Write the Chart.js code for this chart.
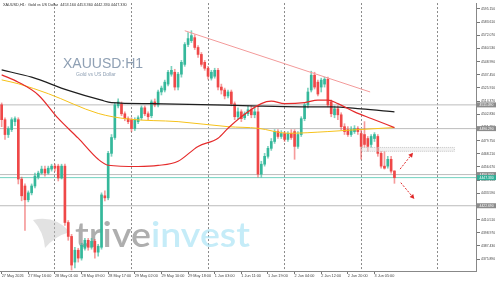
<!DOCTYPE html>
<html>
<head>
<meta charset="utf-8">
<script src="https://cdn.jsdelivr.net/npm/chart.js@4.4.1/dist/chart.umd.min.js"></script>
<style>
  html, body { margin: 0; padding: 0; background: #fff; }
  #wrap { width: 500px; height: 281px; position: relative; }
</style>
</head>
<body>
<div id="wrap"><canvas id="myChart"></canvas></div>
<script>
// XAUUSD H1 candles, 27 May 08:00 .. 3 Jun 11:00
const opens = [
  4511.1, 4498.1, 4485.1, 4489.4, 4496.4, 4498.1, 4446.1, 4440.0, 4427.9, 4434.0,
  4440.0, 4447.8, 4451.3, 4454.8, 4451.3, 4454.8, 4457.4, 4457.4, 4447.0, 4457.4,
  4408.0, 4395.8, 4373.3, 4383.7, 4376.8, 4385.4, 4392.4, 4386.3, 4391.5, 4382.0,
  4386.3, 4431.4, 4429.6, 4468.6, 4482.5, 4510.2, 4512.0, 4503.3, 4499.0, 4498.1,
  4490.3, 4496.4, 4499.8, 4508.5, 4503.3, 4501.6, 4513.7, 4511.1, 4522.4, 4524.1,
  4529.3, 4538.0, 4539.7, 4526.7, 4538.0, 4546.6, 4564.0, 4567.4, 4570.0, 4561.4,
  4555.3, 4548.4, 4543.2, 4534.5, 4536.2, 4541.4, 4526.7, 4524.1, 4518.9, 4522.4,
  4512.0, 4500.7, 4505.0, 4499.8, 4503.3, 4506.8, 4502.4, 4505.0, 4450.4, 4459.1,
  4466.0, 4473.0, 4479.0, 4487.7, 4483.4, 4486.0, 4480.8, 4486.0, 4487.7, 4474.7,
  4485.1, 4499.0, 4511.1, 4524.1, 4537.1, 4531.0, 4526.7, 4529.3, 4533.6, 4513.7,
  4502.4, 4507.6, 4502.4, 4492.0, 4489.4, 4485.1, 4487.7, 4490.3, 4486.0, 4485.1,
  4481.6, 4476.4, 4481.6, 4483.4, 4468.6, 4457.4, 4457.4, 4463.4, 4453.16
];
const highs = [
  4512.8, 4499.8, 4492.0, 4499.8, 4500.7, 4499.8, 4447.8, 4441.8, 4435.7, 4441.8,
  4451.3, 4453.0, 4457.4, 4457.4, 4457.4, 4459.1, 4459.1, 4459.1, 4459.1, 4459.1,
  4409.7, 4397.6, 4386.3, 4385.4, 4389.8, 4394.1, 4394.1, 4394.1, 4393.3, 4388.9,
  4434.0, 4435.7, 4470.4, 4485.1, 4512.8, 4516.3, 4513.7, 4505.0, 4500.7, 4499.8,
  4499.8, 4501.6, 4510.2, 4510.2, 4505.0, 4515.4, 4516.3, 4524.1, 4527.6, 4532.8,
  4541.4, 4544.9, 4542.3, 4539.7, 4550.1, 4565.7, 4574.4, 4576.1, 4572.6, 4563.1,
  4557.0, 4550.1, 4544.9, 4541.4, 4543.2, 4543.2, 4529.3, 4525.8, 4524.1, 4524.1,
  4513.7, 4508.5, 4506.8, 4505.0, 4510.2, 4510.2, 4508.5, 4510.2, 4461.7, 4468.6,
  4474.7, 4481.6, 4489.4, 4489.4, 4488.5, 4487.7, 4487.7, 4489.4, 4489.4, 4487.7,
  4500.7, 4512.8, 4525.8, 4540.6, 4539.7, 4532.8, 4534.5, 4535.4, 4535.4, 4515.4,
  4510.2, 4510.2, 4504.2, 4494.6, 4492.0, 4492.0, 4492.9, 4492.0, 4489.4, 4496.4,
  4483.4, 4485.1, 4486.8, 4485.1, 4470.4, 4470.4, 4466.0, 4466.0, 4453.36
];
const lows = [
  4492.0, 4480.8, 4482.5, 4487.7, 4492.9, 4441.8, 4427.0, 4401.0, 4426.1, 4432.2,
  4438.3, 4446.1, 4450.4, 4448.7, 4450.4, 4453.0, 4453.0, 4444.4, 4446.1, 4405.4,
  4392.4, 4366.4, 4368.1, 4373.3, 4375.0, 4383.7, 4383.7, 4384.6, 4376.8, 4378.5,
  4384.6, 4427.0, 4427.9, 4466.0, 4480.8, 4508.5, 4501.6, 4497.2, 4494.6, 4487.7,
  4488.6, 4494.6, 4498.1, 4501.6, 4498.1, 4499.8, 4509.4, 4509.4, 4519.8, 4522.4,
  4527.6, 4536.2, 4524.1, 4524.1, 4535.4, 4544.9, 4562.2, 4565.7, 4559.6, 4552.7,
  4544.9, 4541.4, 4533.6, 4532.8, 4534.5, 4524.1, 4520.6, 4516.3, 4517.2, 4510.2,
  4498.1, 4499.0, 4496.4, 4498.1, 4501.6, 4499.8, 4499.8, 4447.8, 4447.8, 4457.4,
  4464.3, 4471.2, 4477.3, 4481.6, 4481.6, 4479.0, 4479.0, 4480.8, 4463.4, 4473.0,
  4483.4, 4497.2, 4508.5, 4522.4, 4525.0, 4518.9, 4522.4, 4526.7, 4509.4, 4500.7,
  4499.8, 4498.1, 4489.4, 4485.1, 4483.4, 4483.4, 4486.0, 4485.1, 4463.4, 4473.8,
  4470.4, 4473.8, 4479.0, 4466.0, 4455.6, 4454.8, 4455.6, 4451.3, 4442.33
];
const closes = [
  4498.1, 4485.1, 4490.3, 4498.1, 4499.0, 4446.1, 4431.4, 4427.9, 4434.0, 4440.0,
  4448.7, 4451.3, 4454.8, 4451.3, 4455.6, 4457.4, 4455.6, 4447.0, 4457.4, 4408.0,
  4395.8, 4370.7, 4383.7, 4376.8, 4388.0, 4392.4, 4386.3, 4391.5, 4382.0, 4387.2,
  4432.2, 4429.6, 4468.6, 4482.5, 4511.1, 4513.7, 4503.3, 4499.0, 4496.4, 4490.3,
  4498.1, 4499.8, 4508.5, 4503.3, 4500.7, 4513.7, 4511.1, 4522.4, 4525.8, 4531.0,
  4539.7, 4541.4, 4526.7, 4538.0, 4548.4, 4564.0, 4569.2, 4571.8, 4561.4, 4555.3,
  4546.6, 4543.2, 4536.2, 4539.7, 4541.4, 4526.7, 4524.1, 4518.9, 4522.4, 4512.0,
  4500.7, 4505.0, 4499.0, 4503.3, 4506.8, 4502.4, 4505.0, 4450.4, 4459.1, 4466.0,
  4473.0, 4479.0, 4487.7, 4483.4, 4486.0, 4480.8, 4486.0, 4482.5, 4474.7, 4485.1,
  4499.0, 4511.1, 4522.4, 4537.1, 4526.7, 4520.6, 4532.8, 4533.6, 4511.1, 4503.3,
  4507.6, 4502.4, 4492.0, 4487.7, 4485.1, 4489.4, 4490.3, 4487.7, 4474.7, 4476.4,
  4474.7, 4483.4, 4485.1, 4468.6, 4457.4, 4455.6, 4463.4, 4453.0, 4447.33
];

// moving averages, read at a few bars each (bar index, price)
const maSlowIdx = [0, 9, 20, 30, 33, 45, 60, 75, 90, 99, 108, 118];
const maSlowVal = [4541.7, 4535.4, 4523.8, 4515.2, 4513.1, 4512.2, 4511.4, 4510.2, 4509.4, 4509.4, 4507.6, 4505.0];
const maMidIdx = [0, 5, 14, 29, 38, 53, 68, 77, 86, 98, 107, 118];
const maMidVal = [4533.0, 4529.6, 4520.9, 4503.6, 4498.7, 4496.4, 4492.0, 4490.6, 4486.2, 4487.7, 4489.4, 4491.2];
const maFastIdx = [0, 5, 11, 17, 23, 29, 32, 41, 47, 53, 59, 65, 68, 72, 78, 81, 85, 91, 95, 98, 101, 106, 111, 118];
const maFastVal = [4537.4, 4531.0, 4519.8, 4499.2, 4481.9, 4463.4, 4458.2, 4457.1, 4458.0, 4461.7, 4474.7, 4481.9,
                   4490.6, 4500.7, 4512.2, 4514.3, 4512.2, 4513.1, 4515.2, 4515.2, 4512.2, 4505.0, 4499.2, 4491.2];

// objects on the chart
const levelPrices = [4511.09, 4490.29, 4450.00, 4422.69];
const bidPrice = 4447.33;
const trendIdx = [55, 110.7];
const trendVal = [4576.1, 4522.4];
const boxIdx = [108.2, 136.0];
const boxVal = [4473.8, 4470.4];
const arrowUp = [[119.7, 4454.8], [123.2, 4467.8]];
const arrowDown = [[119.9, 4442.9], [123.6, 4430.0]];

// axes
const priceTicks = [4595.15, 4583.61, 4572.07, 4560.53, 4548.99, 4537.45, 4525.91, 4514.37, 4502.83, 4491.29,
                    4479.75, 4468.21, 4456.67, 4445.13, 4433.59, 4422.05, 4410.51, 4398.97, 4387.43, 4375.89];
const timeTickIdx = [0, 8, 16, 24, 32, 40, 48, 56, 64, 72, 80, 88, 96, 104, 112];
const timeTickText = ["27 May 2026", "27 May 16:00", "28 May 01:00", "28 May 09:00", "28 May 17:00",
                      "29 May 02:00", "29 May 10:00", "29 May 18:00", "1 Jun 03:00", "1 Jun 11:00",
                      "1 Jun 19:00", "2 Jun 04:00", "2 Jun 12:00", "2 Jun 20:00", "3 Jun 05:00"];
const daySeps = [16, 39, 62, 85, 108, 131];

const UP = "#35b89b", DOWN = "#ef4848";
const isUp = i => closes[i] >= opens[i];
const pts = (xs, ys) => xs.map((x, i) => ({ x: x, y: ys[i] }));

const font = "'Liberation Sans', Arial, sans-serif";
Chart.defaults.font.family = font;

const overlay = {
    id: "overlay",
    beforeDatasetsDraw(chart) {
        const c = chart.ctx;
        c.save();
        // symbol watermark
        c.fillStyle = "#8fa0b4";
        c.font = "14px " + font;
        c.textBaseline = "alphabetic";
        c.fillText("XAUUSD:H1", 63, 68);
        c.font = "5px " + font;
        c.fillText("Gold vs US Dollar", 76, 76);
        // broker logo, stretched to its width in the picture
        c.font = "600 34px Lato, " + font;
        const w1 = c.measureText("trive").width, w2 = c.measureText("invest").width;
        const k = 175 / (w1 + w2);
        c.translate(75, 247);
        c.scale(k, 1);
        c.fillStyle = "rgba(120,120,120,0.6)";
        c.fillText("trive", 0, 0);
        c.fillStyle = "rgba(150,220,242,0.55)";
        c.fillText("invest", w1, 0);
        c.setTransform(1, 0, 0, 1, 0, 0);
        // wing mark
        c.fillStyle = "rgba(190,190,190,0.45)";
        c.beginPath();
        c.moveTo(33, 220); c.quadraticCurveTo(55, 215, 70, 232);
        c.quadraticCurveTo(55, 236, 45, 248); c.quadraticCurveTo(44, 232, 33, 220);
        c.fill();
        c.restore();
    },
    afterDatasetsDraw(chart) {
        const c = chart.ctx, x = chart.scales.x, y = chart.scales.y;
        c.save();
        // dotted zone
        const x1 = x.getPixelForValue(boxIdx[0]), x2 = x.getPixelForValue(boxIdx[1]);
        const y1 = y.getPixelForValue(boxVal[0]), y2 = y.getPixelForValue(boxVal[1]);
        c.fillStyle = "rgba(225,225,225,0.45)";
        c.fillRect(x1, y1, x2 - x1, y2 - y1);
        c.strokeStyle = "#c4c4c4";
        c.setLineDash([1, 1]);
        c.strokeRect(x1, y1, x2 - x1, y2 - y1);
        // arrows
        [arrowUp, arrowDown].forEach(a => {
            const ax = x.getPixelForValue(a[0][0]), ay = y.getPixelForValue(a[0][1]);
            const bx = x.getPixelForValue(a[1][0]), by = y.getPixelForValue(a[1][1]);
            c.strokeStyle = "#e02828";
            c.lineWidth = 1;
            c.setLineDash([2, 1.5]);
            c.beginPath(); c.moveTo(ax, ay); c.lineTo(bx, by); c.stroke();
            c.setLineDash([]);
            const ang = Math.atan2(by - ay, bx - ax);
            c.fillStyle = "#e02828";
            c.beginPath();
            c.moveTo(bx + Math.cos(ang) * 2, by + Math.sin(ang) * 2);
            c.lineTo(bx + Math.cos(ang + 2.4) * 3.5, by + Math.sin(ang + 2.4) * 3.5);
            c.lineTo(bx + Math.cos(ang - 2.4) * 3.5, by + Math.sin(ang - 2.4) * 3.5);
            c.closePath(); c.fill();
        });
        c.restore();
    },
    afterDraw(chart) {
        const c = chart.ctx, y = chart.scales.y, left = chart.chartArea.right + 1;
        c.save();
        c.font = "3.8px " + font;
        c.fillStyle = "#333";
        c.textBaseline = "middle";
        c.fillText("XAUUSD,H1:  Gold vs US Dollar  4453.160 4453.360 4442.330 4447.330", 3, 4.5);
        c.font = "3.4px " + font;
        const tag = (v, bg) => {
            const py = y.getPixelForValue(v);
            c.fillStyle = bg;
            c.fillRect(left, py - 2.5, 19, 5);
            c.fillStyle = "#fff";
            c.fillText(v.toFixed(3), left + 2.5, py + 0.2);
        };
        levelPrices.forEach(v => tag(v, "#8c8c8c"));
        tag(bidPrice, "#2fae96");
        c.restore();
    }
};

const lineDs = (data, color, width, order) => ({
    type: "line", data: data, borderColor: color, borderWidth: width,
    pointRadius: 0, cubicInterpolationMode: "monotone", order: order
});

const last = 142.5;
const datasets = [
    {
        type: "bar", label: "wicks", order: 6, grouped: false, barThickness: 1,
        data: lows.map((l, i) => ({ x: i, y: [l, highs[i]] })),
        backgroundColor: lows.map((l, i) => isUp(i) ? "rgba(53,184,155,0.65)" : "rgba(239,72,72,0.55)")
    },
    {
        type: "bar", label: "bodies", order: 5, grouped: false, barThickness: 2, minBarLength: 1,
        data: opens.map((o, i) => ({ x: i, y: [o, closes[i]] })),
        backgroundColor: opens.map((o, i) => isUp(i) ? UP : DOWN)
    },
    lineDs(pts(maSlowIdx, maSlowVal), "#1e1e1e", 1.2, 3),
    lineDs(pts(maMidIdx, maMidVal), "#f6c21a", 1, 3),
    lineDs(pts(maFastIdx, maFastVal), "#e52b2b", 1.2, 2),
    lineDs(pts(trendIdx, trendVal), "#f39a9a", 1, 1)
];
levelPrices.forEach(v => datasets.push(lineDs(pts([-0.5, last], [v, v]), "#bcbcbc", 1, 9)));
datasets.push(lineDs(pts([-0.5, last], [bidPrice, bidPrice]), "#72d2bf", 1, 8));

new Chart(document.getElementById("myChart"), {
    type: "bar",
    data: { datasets: datasets },
    options: {
        responsive: true,
        maintainAspectRatio: false,
        animation: false,
        events: [],
        layout: { padding: 0 },
        plugins: { legend: { display: false }, tooltip: { enabled: false } },
        scales: {
            x: {
                type: "linear", min: -0.5, max: last, offset: false,
                afterBuildTicks: s => { s.ticks = timeTickIdx.concat(daySeps.filter(d => !timeTickIdx.includes(d))).sort((a, b) => a - b).map(v => ({ value: v })); },
                afterFit: s => { s.height = 10; },
                grid: {
                    offset: false, lineWidth: 1, tickLength: 3,
                    color: ctx => ctx.tick && daySeps.includes(ctx.tick.value) ? "#8a8a8a" : "rgba(0,0,0,0)",
                    tickColor: ctx => ctx.tick && timeTickIdx.includes(ctx.tick.value) ? "#777" : "rgba(0,0,0,0)"
                },
                border: { color: "#888", dash: [2, 2] },
                ticks: {
                    autoSkip: false, maxRotation: 0, align: "start", padding: 0,
                    color: "#444", font: { size: 3.8 },
                    callback: v => { const k = timeTickIdx.indexOf(v); return k >= 0 ? timeTickText[k] : ""; }
                }
            },
            y: {
                position: "right", min: 4365.49, max: 4600.35,
                afterBuildTicks: s => { s.ticks = priceTicks.map(v => ({ value: v })); },
                afterFit: s => { s.width = 24; },
                grid: { drawOnChartArea: false, tickLength: 4, tickColor: "#777" },
                border: { color: "#888" },
                ticks: { color: "#444", padding: 1, font: { size: 3.4 }, callback: v => v.toFixed(3) }
            }
        }
    },
    plugins: [overlay]
});
</script>
</body>
</html>
